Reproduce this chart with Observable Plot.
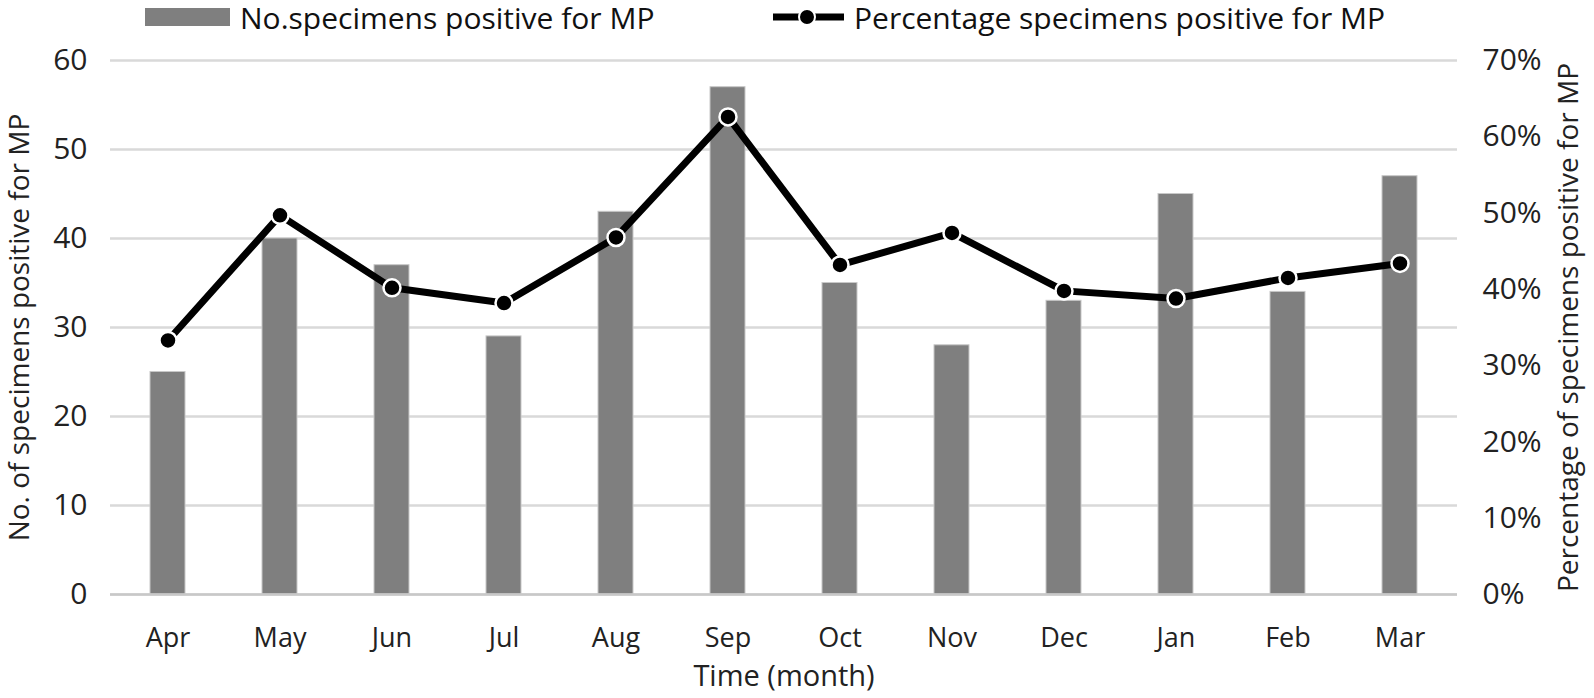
<!DOCTYPE html>
<html><head><meta charset="utf-8">
<script src="https://cdn.jsdelivr.net/npm/d3@7"></script>
<script src="https://cdn.jsdelivr.net/npm/@observablehq/plot@0.6"></script>
<style>
body{margin:0;background:#fff;width:1594px;height:698px;overflow:hidden;}
#legend{position:relative;height:44px;width:1594px;}
#legend .t{position:absolute;top:1px;font-family:"Open Sans",sans-serif;font-size:30px;color:#111;white-space:nowrap;line-height:34px;}
#chart svg{display:block;overflow:visible;}
</style></head><body>
<div id="legend">
  <div style="position:absolute;left:145px;top:8px;width:85px;height:18px;background:#7f7f7f;"></div>
  <div class="t" style="left:240px;">No.specimens positive for MP</div>
  <svg style="position:absolute;left:770px;top:0px;" width="80" height="40">
    <line x1="3" y1="17" x2="74" y2="17" stroke="#000" stroke-width="7"/>
    <circle cx="37" cy="17" r="8" fill="#000" stroke="#fff" stroke-width="2"/>
  </svg>
  <div class="t" style="left:854px;">Percentage specimens positive for MP</div>
</div>
<div id="chart"></div>
<script>
const months = ["Apr","May","Jun","Jul","Aug","Sep","Oct","Nov","Dec","Jan","Feb","Mar"];
const counts = [25, 40, 37, 29, 43, 57, 35, 28, 33, 45, 34, 47];
const percents = [0.333, 0.497, 0.402, 0.382, 0.468, 0.626, 0.432, 0.474, 0.398, 0.388, 0.415, 0.434];
const leftTicks = [0, 10, 20, 30, 40, 50, 60];
const rightTicks = [0, 0.1, 0.2, 0.3, 0.4, 0.5, 0.6, 0.7];
const leftMax = 60, rightMax = 0.7;
const toLeft = p => p * leftMax / rightMax;

const data = months.map((m, i) => ({month: m, count: counts[i], pct: percents[i], pctY: toLeft(percents[i])}));

const font = "Open Sans, sans-serif";
const chart = Plot.plot({
  width: 1594,
  height: 654,
  marginTop: 16,
  marginBottom: 104,
  marginLeft: 110,
  marginRight: 137,
  style: {fontFamily: font, fontSize: "30px", color: "#222", background: "white", overflow: "visible"},
  x: {domain: months, paddingInner: 0.69, paddingOuter: 0.345, label: null},
  y: {domain: [0, leftMax], label: null},
  marks: [
    Plot.gridY(leftTicks, {stroke: "#d9d9d9", strokeOpacity: 1, strokeWidth: 2.5}),
    Plot.barY(data, {x: "month", y: "count", fill: "#7f7f7f", stroke: "#c8c8c8", strokeWidth: 1}),
    Plot.ruleY([0], {stroke: "#c8c8c8", strokeWidth: 2.5}),
    Plot.line(data, {x: "month", y: "pctY", stroke: "#000", strokeWidth: 7}),
    Plot.dot(data, {x: "month", y: "pctY", r: 8.5, fill: "#000", stroke: "#fff", strokeWidth: 2.5}),
    Plot.axisY(leftTicks, {anchor: "left", tickSize: 0, tickPadding: 23, label: null, fontSize: 30}),
    Plot.axisY(rightTicks.map(toLeft), {anchor: "right", tickSize: 0, tickPadding: 25, label: null, fontSize: 30,
      tickFormat: v => Math.round(v / leftMax * rightMax * 100) + "%"}),
    Plot.axisX({tickSize: 0, tickPadding: 33, label: null, fontSize: 27}),
    Plot.text(["No. of specimens positive for MP"], {frameAnchor: "left", dx: -90, rotate: -90, textAnchor: "middle", lineAnchor: "middle", fontSize: 28, fill: "#222"}),
    Plot.text(["Percentage of specimens positive for MP"], {frameAnchor: "right", dx: 112, rotate: -90, textAnchor: "middle", lineAnchor: "middle", fontSize: 28, fill: "#222"}),
    Plot.text(["Time (month)"], {frameAnchor: "bottom", dy: 91, fontSize: 29, fill: "#222"})
  ]
});
document.getElementById("chart").appendChild(chart);
</script>
</body></html>
